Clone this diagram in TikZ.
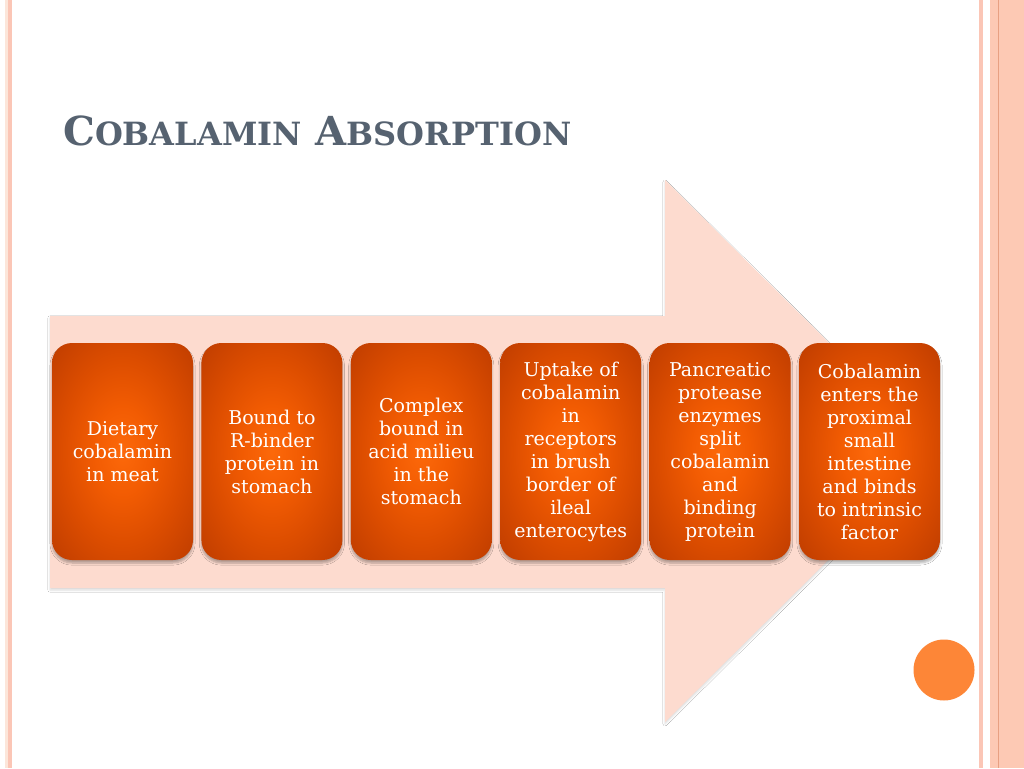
\documentclass[tikz,border=0pt]{standalone}
\usepackage{fontspec}
\setmainfont{DejaVu Serif}
\usepackage{tikz}
\usetikzlibrary{positioning,shadows.blur}
\definecolor{slideTitle}{RGB}{86,98,112}
\definecolor{arrowPeach}{RGB}{253,219,207}
\definecolor{dotOrange}{RGB}{253,134,55}
\definecolor{stripPale}{RGB}{252,230,218}
\definecolor{stripPink}{RGB}{251,198,182}
\definecolor{stripPeach}{RGB}{253,201,180}
\definecolor{stripLine}{RGB}{232,160,130}
\pgfdeclareradialshading{cardglow}{\pgfpoint{0bp}{0bp}}{%
  rgb(0bp)=(0.99,0.41,0.04);
  rgb(10bp)=(0.95,0.36,0.01);
  rgb(22bp)=(0.86,0.3,0);
  rgb(33bp)=(0.77,0.25,0);
  rgb(42bp)=(0.68,0.21,0);
  rgb(50bp)=(0.62,0.19,0)}
\tikzset{
  card/.style={rounded corners=20pt, minimum width=141pt, minimum height=217pt,
    inner sep=2pt, align=center, text=white, shading=cardglow,
    font=\fontsize{19}{23}\selectfont,
    blur shadow={shadow xshift=0pt, shadow yshift=-3pt, shadow blur steps=6, shadow opacity=30}},
  dot/.style={circle, fill=dotOrange, minimum size=61pt, inner sep=0pt}
}
\newcommand{\smallcap}[1]{{\fontsize{32}{40}\selectfont #1}}
\begin{document}
\begin{tikzpicture}[
  x=1pt, y=-1pt,
  node distance=8pt,
  heading/.style={anchor=base west, inner sep=0pt, text=slideTitle, font=\bfseries\fontsize{40}{48}\selectfont}
]
\useasboundingbox[fill=white] (0,0) rectangle (1024,768);
\fill[stripPale] (5,0) rectangle (8,768);
\fill[stripPink] (8,0) rectangle (12,768);
\fill[stripPink] (979,0) rectangle (983,768);
\fill[stripPeach] (990,0) rectangle (1024,768);
\fill[stripLine] (997.5,0) rectangle (999,768);

\node[heading] (title) at (63,145) {C\smallcap{OBALAMIN} A\smallcap{BSORPTION}};

\fill[arrowPeach, blur shadow={shadow xshift=0pt, shadow yshift=-2pt, shadow opacity=15}]
  (50,316) -- (665,316) -- (665,180) -- (938,451) -- (665,722) -- (665,588) -- (50,588) -- cycle;

\node[card] (dietary) at (122.5,451.5) {Dietary\\cobalamin\\in meat};
\node[card, right=of dietary] (rbinder) {Bound to\\R-binder\\protein in\\stomach};
\node[card, right=of rbinder] (complex) {Complex\\bound in\\acid milieu\\in the\\stomach};
\node[card, right=of complex] (uptake) {Uptake of\\cobalamin\\in\\receptors\\in brush\\border of\\ileal\\enterocytes};
\node[card, right=of uptake] (protease) {Pancreatic\\protease\\enzymes\\split\\cobalamin\\and\\binding\\protein};
\node[card, right=of protease] (intrinsic) {Cobalamin\\enters the\\proximal\\small\\intestine\\and binds\\to intrinsic\\factor};

\node[dot] (bullet) at (944,670) {};
\end{tikzpicture}
\end{document}
